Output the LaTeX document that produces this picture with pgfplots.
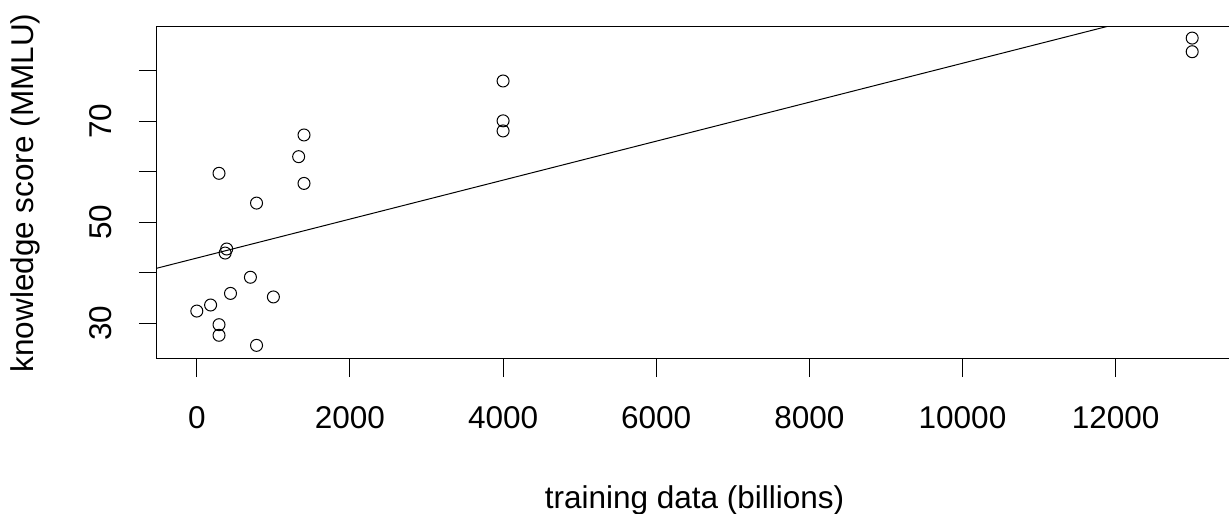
\documentclass[border=0pt]{standalone}
\usepackage{fontspec}
\setmainfont{Liberation Sans}
\usepackage{pgfplots}
\pgfplotsset{compat=1.18}
\begin{document}
\begin{tikzpicture}
\path[use as bounding box] (0,0) rectangle (1229pt,514pt);
\begin{axis}[
  at={(157pt,155pt)}, anchor=south west,
  scale only axis, width=1075pt, height=332pt,
  xmin=-520, xmax=13520, ymin=22.9, ymax=88.7,
  axis line style={line width=1pt, black},
  scaled x ticks=false, scaled y ticks=false,
  xtick={0,2000,4000,6000,8000,10000,12000},
  xticklabels={0,2000,4000,6000,8000,10000,12000},
  ytick={30,40,50,60,70,80},
  yticklabels={30,,50,,70,},
  xtick pos=left, ytick pos=left,
  tick align=outside, major tick length=18pt,
  tick style={line width=1pt, black},
  /pgf/number format/assume math mode=true,
  tick label style={font=\fontsize{31.5}{38}\selectfont},
  xticklabel style={anchor=base},
  xticklabel shift=51pt,
  yticklabel style={rotate=90, anchor=base},
  yticklabel shift=27pt,
  label style={font=\fontsize{31.5}{38}\selectfont},
  xlabel={training data (billions)},
  xlabel style={at={(axis description cs:0.5,0)}, anchor=base, yshift=-149pt},
  ylabel={knowledge score (MMLU)},
  ylabel style={at={(axis description cs:-0.1149,0.5)}, rotate=0, anchor=base},
]
\addplot[only marks, mark=o, mark size=6pt, mark options={line width=1pt, black}] coordinates {
  (4000,78.0) (4000,70.1) (4000,68.1)
  (1400,67.3) (1330,63.0) (1400,57.7)
  (290,59.7) (780,53.8) (390,44.7) (370,43.9)
  (700,39.1) (440,35.9) (1000,35.2) (180,33.6) (0,32.4)
  (290,29.7) (290,27.6) (780,25.6)
  (13000,86.5) (13000,83.8)
};
\addplot[line width=1pt, black, no marks] coordinates {(-520,40.9) (13520,95.1)};
\end{axis}
\end{tikzpicture}
\end{document}
